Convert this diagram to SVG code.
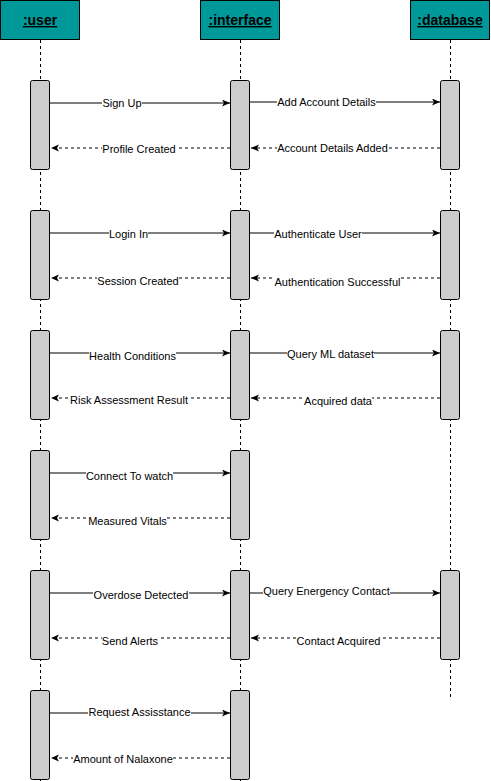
<svg xmlns="http://www.w3.org/2000/svg" width="491" height="781" viewBox="0 0 491 781">
<style>
.hdr{fill:#009999;stroke:#000;stroke-width:1}
.htx{font-family:"Liberation Sans",Arial,sans-serif;font-size:14px;font-weight:bold;text-decoration:underline;fill:#000;text-anchor:middle}
.life{stroke:#000;stroke-width:1;stroke-dasharray:3 3;fill:none}
.act{fill:#CCCCCC;stroke:#000;stroke-width:1}
.msg{stroke:#000;stroke-width:1;fill:none;marker-end:url(#arr)}
.ret{stroke:#000;stroke-width:1;fill:none;stroke-dasharray:3 3;marker-end:url(#arr)}
.lbg{fill:#fff}
.ltx{font-family:"Liberation Sans",Arial,sans-serif;font-size:11px;fill:#000;text-anchor:middle}
</style>
<defs>
<marker id="arr" markerWidth="9" markerHeight="8" refX="8" refY="3.5" orient="auto" markerUnits="userSpaceOnUse">
<path d="M0,0 L8,3.5 L0,7 L2,3.5 z" fill="#000"/>
</marker>
</defs>
<rect width="491" height="781" fill="#fff"/>
<g id="user">
<line class="life" x1="40.5" y1="40" x2="40.5" y2="781"/>
<rect class="hdr" x="0.5" y="0.5" width="79" height="39"/>
<text class="htx" x="40" y="25">:user</text>
</g>
<g id="interface">
<line class="life" x1="240.5" y1="40" x2="240.5" y2="781"/>
<rect class="hdr" x="200.5" y="0.5" width="79" height="39"/>
<text class="htx" x="240" y="25">:interface</text>
</g>
<g id="database">
<line class="life" x1="450.5" y1="40" x2="450.5" y2="700"/>
<rect class="hdr" x="410.5" y="0.5" width="79" height="39"/>
<text class="htx" x="450" y="25">:database</text>
</g>
<g id="activations">
<g id="u1"><rect class="act" x="30.5" y="80.5" width="19" height="89" rx="2"/></g>
<g id="i1"><rect class="act" x="230.5" y="80.5" width="19" height="89" rx="2"/></g>
<g id="d1"><rect class="act" x="440.5" y="80.5" width="19" height="89" rx="2"/></g>
<g id="u2"><rect class="act" x="30.5" y="210.5" width="19" height="89" rx="2"/></g>
<g id="i2"><rect class="act" x="230.5" y="210.5" width="19" height="89" rx="2"/></g>
<g id="d2"><rect class="act" x="440.5" y="210.5" width="19" height="89" rx="2"/></g>
<g id="u3"><rect class="act" x="30.5" y="330.5" width="19" height="89" rx="2"/></g>
<g id="i3"><rect class="act" x="230.5" y="330.5" width="19" height="89" rx="2"/></g>
<g id="d3"><rect class="act" x="440.5" y="330.5" width="19" height="89" rx="2"/></g>
<g id="u4"><rect class="act" x="30.5" y="450.5" width="19" height="89" rx="2"/></g>
<g id="i4"><rect class="act" x="230.5" y="450.5" width="19" height="89" rx="2"/></g>
<g id="u5"><rect class="act" x="30.5" y="570.5" width="19" height="89" rx="2"/></g>
<g id="i5"><rect class="act" x="230.5" y="570.5" width="19" height="89" rx="2"/></g>
<g id="d5"><rect class="act" x="440.5" y="570.5" width="19" height="89" rx="2"/></g>
<g id="u6"><rect class="act" x="30.5" y="690.5" width="19" height="89" rx="2"/></g>
<g id="i6"><rect class="act" x="230.5" y="690.5" width="19" height="89" rx="2"/></g>
</g>
<g id="connectors">
<line class="msg" x1="50" y1="103" x2="230" y2="103"/>
<line class="msg" x1="250" y1="102" x2="440" y2="102"/>
<line class="ret" x1="230" y1="148" x2="51" y2="148"/>
<line class="ret" x1="440" y1="148" x2="251" y2="148"/>

<line class="msg" x1="50" y1="233" x2="230" y2="233"/>
<line class="msg" x1="250" y1="233" x2="440" y2="233"/>
<line class="ret" x1="230" y1="278" x2="51" y2="278"/>
<line class="ret" x1="440" y1="278" x2="251" y2="278"/>

<line class="msg" x1="50" y1="353" x2="230" y2="353"/>
<line class="msg" x1="250" y1="353" x2="440" y2="353"/>
<line class="ret" x1="230" y1="398" x2="51" y2="398"/>
<line class="ret" x1="440" y1="398" x2="251" y2="398"/>

<line class="msg" x1="50" y1="473" x2="230" y2="473"/>
<line class="ret" x1="230" y1="518" x2="51" y2="518"/>

<line class="msg" x1="50" y1="593" x2="230" y2="593"/>
<line class="msg" x1="250" y1="593" x2="440" y2="593"/>
<line class="ret" x1="230" y1="638" x2="51" y2="638"/>
<line class="ret" x1="440" y1="638" x2="251" y2="638"/>

<line class="msg" x1="50" y1="713" x2="230" y2="713"/>
<line class="ret" x1="230" y1="758" x2="51" y2="758"/>

<g id="labels">
<rect class="lbg" x="102" y="97" width="40" height="13"/><text class="ltx" x="122" y="107">Sign Up</text>
<rect class="lbg" x="277" y="96" width="99" height="13"/><text class="ltx" x="326.5" y="106">Add Account Details</text>
<rect class="lbg" x="102" y="143" width="74" height="13"/><text class="ltx" x="139" y="153">Profile Created</text>
<rect class="lbg" x="277" y="142" width="111" height="13"/><text class="ltx" x="332.5" y="152">Account Details Added</text>

<rect class="lbg" x="109" y="228" width="39" height="13"/><text class="ltx" x="128.5" y="238">Login In</text>
<rect class="lbg" x="274" y="228" width="88" height="13"/><text class="ltx" x="318" y="238">Authenticate User</text>
<rect class="lbg" x="97" y="275" width="82" height="13"/><text class="ltx" x="138" y="285">Session Created</text>
<rect class="lbg" x="274" y="276" width="127" height="13"/><text class="ltx" x="337.5" y="286">Authentication Successful</text>

<rect class="lbg" x="89" y="350" width="87" height="13"/><text class="ltx" x="132.5" y="360">Health Conditions</text>
<rect class="lbg" x="287" y="348" width="87" height="13"/><text class="ltx" x="330.5" y="358">Query ML dataset</text>
<rect class="lbg" x="70" y="394" width="118" height="13"/><text class="ltx" x="129" y="404">Risk Assessment Result</text>
<rect class="lbg" x="304" y="395" width="68" height="13"/><text class="ltx" x="338" y="405">Acquired data</text>

<rect class="lbg" x="86" y="470" width="87" height="13"/><text class="ltx" x="129.5" y="480">Connect To watch</text>
<rect class="lbg" x="88" y="515" width="79" height="13"/><text class="ltx" x="127.5" y="525">Measured Vitals</text>

<rect class="lbg" x="93" y="589" width="96" height="13"/><text class="ltx" x="141" y="599">Overdose Detected</text>
<rect class="lbg" x="263" y="585" width="127" height="13"/><text class="ltx" x="326.5" y="595">Query Energency Contact</text>
<rect class="lbg" x="102" y="635" width="56" height="13"/><text class="ltx" x="130" y="645">Send Alerts</text>
<rect class="lbg" x="296" y="635" width="85" height="13"/><text class="ltx" x="338.5" y="645">Contact Acquired</text>

<rect class="lbg" x="88" y="706" width="103" height="13"/><text class="ltx" x="139.5" y="716">Request Assisstance</text>
<rect class="lbg" x="73" y="753" width="100" height="13"/><text class="ltx" x="123" y="763">Amount of Nalaxone</text>
</g>
</g>
</svg>
